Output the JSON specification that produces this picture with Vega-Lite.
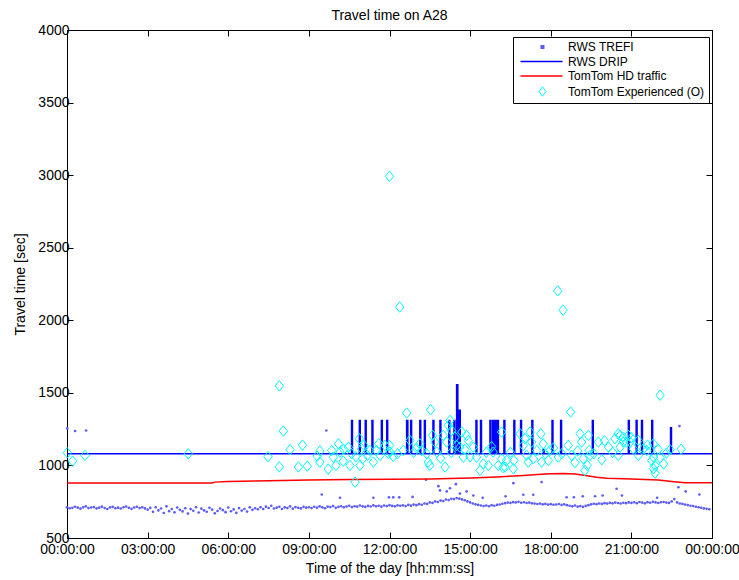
{
  "$schema": "https://vega.github.io/schema/vega-lite/v6.json",
  "autosize": "none",
  "width": 645,
  "height": 508,
  "padding": {"left": 67, "top": 30, "right": 27, "bottom": 42},
  "background": "white",
  "title": {"text": "Travel time on A28", "font": "Liberation Sans", "fontSize": 14, "fontWeight": "normal", "color": "black", "offset": 0},
  "config": {
    "view": {"stroke": "black", "strokeWidth": 1},
    "axis": {"grid": false, "domainColor": "black", "tickColor": "black", "labelColor": "black", "titleColor": "black", "labelFont": "Liberation Sans", "titleFont": "Liberation Sans", "labelFontSize": 14, "titleFontSize": 14, "titleFontWeight": "normal", "tickSize": -6, "labelFlush": false, "labelOverlap": false}
  },
  "datasets": {
    "trefi": [
      {"h":0.0,"v":712},{"h":0.1,"v":705},{"h":0.2,"v":708},{"h":0.3,"v":715},{"h":0.4,"v":709},{"h":0.5,"v":702},{"h":0.6,"v":711},{"h":0.7,"v":718},{"h":0.8,"v":706},{"h":0.9,"v":710},
      {"h":1.0,"v":713},{"h":1.1,"v":704},{"h":1.2,"v":709},{"h":1.3,"v":716},{"h":1.4,"v":707},{"h":1.5,"v":700},{"h":1.6,"v":711},{"h":1.7,"v":714},{"h":1.8,"v":705},{"h":1.9,"v":709},
      {"h":2.0,"v":703},{"h":2.1,"v":712},{"h":2.2,"v":717},{"h":2.3,"v":708},{"h":2.4,"v":701},{"h":2.5,"v":710},{"h":2.6,"v":715},{"h":2.7,"v":706},{"h":2.8,"v":712},{"h":2.9,"v":704},
      {"h":3.0,"v":695},{"h":3.1,"v":708},{"h":3.2,"v":680},{"h":3.3,"v":712},{"h":3.4,"v":690},{"h":3.5,"v":703},{"h":3.6,"v":672},{"h":3.7,"v":718},{"h":3.8,"v":685},{"h":3.9,"v":700},
      {"h":4.0,"v":677},{"h":4.1,"v":710},{"h":4.2,"v":694},{"h":4.3,"v":683},{"h":4.4,"v":705},{"h":4.5,"v":668},{"h":4.6,"v":699},{"h":4.7,"v":688},{"h":4.8,"v":712},{"h":4.9,"v":676},
      {"h":5.0,"v":702},{"h":5.1,"v":690},{"h":5.2,"v":681},{"h":5.3,"v":708},{"h":5.4,"v":695},{"h":5.5,"v":670},{"h":5.6,"v":686},{"h":5.7,"v":703},{"h":5.8,"v":692},{"h":5.9,"v":678},
      {"h":6.0,"v":710},{"h":6.1,"v":684},{"h":6.2,"v":697},{"h":6.3,"v":673},{"h":6.4,"v":706},{"h":6.5,"v":689},{"h":6.6,"v":700},{"h":6.7,"v":682},{"h":6.8,"v":711},{"h":6.9,"v":694},
      {"h":7.0,"v":705},{"h":7.1,"v":698},{"h":7.2,"v":712},{"h":7.3,"v":700},{"h":7.4,"v":716},{"h":7.5,"v":707},{"h":7.6,"v":722},{"h":7.7,"v":703},{"h":7.8,"v":709},{"h":7.9,"v":715},
      {"h":8.0,"v":700},{"h":8.1,"v":711},{"h":8.2,"v":706},{"h":8.3,"v":718},{"h":8.4,"v":702},{"h":8.5,"v":713},{"h":8.6,"v":708},{"h":8.7,"v":704},{"h":8.8,"v":714},{"h":8.9,"v":709},
      {"h":9.0,"v":712},{"h":9.1,"v":706},{"h":9.2,"v":715},{"h":9.3,"v":709},{"h":9.4,"v":718},{"h":9.5,"v":711},{"h":9.6,"v":705},{"h":9.7,"v":716},{"h":9.8,"v":713},{"h":9.9,"v":720},
      {"h":10.0,"v":708},{"h":10.1,"v":714},{"h":10.2,"v":719},{"h":10.3,"v":711},{"h":10.4,"v":717},{"h":10.5,"v":722},{"h":10.6,"v":713},{"h":10.7,"v":719},{"h":10.8,"v":716},{"h":10.9,"v":724},
      {"h":11.0,"v":718},{"h":11.1,"v":714},{"h":11.2,"v":721},{"h":11.3,"v":717},{"h":11.4,"v":725},{"h":11.5,"v":719},{"h":11.6,"v":722},{"h":11.7,"v":716},{"h":11.8,"v":724},{"h":11.9,"v":720},
      {"h":12.0,"v":726},{"h":12.1,"v":721},{"h":12.2,"v":718},{"h":12.3,"v":725},{"h":12.4,"v":722},{"h":12.5,"v":725},{"h":12.6,"v":720},{"h":12.7,"v":728},{"h":12.8,"v":723},{"h":12.9,"v":730},
      {"h":13.0,"v":726},{"h":13.1,"v":733},{"h":13.2,"v":729},{"h":13.3,"v":738},{"h":13.4,"v":735},{"h":13.5,"v":745},{"h":13.6,"v":742},{"h":13.7,"v":752},{"h":13.8,"v":748},{"h":13.9,"v":758},
      {"h":14.0,"v":755},{"h":14.1,"v":765},{"h":14.2,"v":761},{"h":14.3,"v":770},{"h":14.4,"v":768},{"h":14.5,"v":775},{"h":14.6,"v":771},{"h":14.7,"v":766},{"h":14.8,"v":760},{"h":14.9,"v":752},
      {"h":15.0,"v":745},{"h":15.1,"v":738},{"h":15.2,"v":732},{"h":15.3,"v":728},{"h":15.4,"v":724},{"h":15.5,"v":720},{"h":15.6,"v":724},{"h":15.7,"v":719},{"h":15.8,"v":726},{"h":15.9,"v":722},
      {"h":16.0,"v":728},{"h":16.1,"v":731},{"h":16.2,"v":736},{"h":16.3,"v":740},{"h":16.4,"v":744},{"h":16.5,"v":742},{"h":16.6,"v":747},{"h":16.7,"v":745},{"h":16.8,"v":749},{"h":16.9,"v":743},
      {"h":17.0,"v":746},{"h":17.1,"v":741},{"h":17.2,"v":744},{"h":17.3,"v":739},{"h":17.4,"v":737},{"h":17.5,"v":734},{"h":17.6,"v":737},{"h":17.7,"v":732},{"h":17.8,"v":735},{"h":17.9,"v":730},
      {"h":18.0,"v":733},{"h":18.1,"v":729},{"h":18.2,"v":731},{"h":18.3,"v":734},{"h":18.4,"v":728},{"h":18.5,"v":732},{"h":18.6,"v":726},{"h":18.7,"v":722},{"h":18.8,"v":718},{"h":18.9,"v":724},
      {"h":19.0,"v":716},{"h":19.1,"v":720},{"h":19.2,"v":714},{"h":19.3,"v":721},{"h":19.4,"v":726},{"h":19.5,"v":732},{"h":19.6,"v":736},{"h":19.7,"v":733},{"h":19.8,"v":738},{"h":19.9,"v":735},
      {"h":20.0,"v":740},{"h":20.1,"v":737},{"h":20.2,"v":742},{"h":20.3,"v":739},{"h":20.4,"v":744},{"h":20.5,"v":741},{"h":20.6,"v":738},{"h":20.7,"v":743},{"h":20.8,"v":740},{"h":20.9,"v":745},
      {"h":21.0,"v":742},{"h":21.1,"v":746},{"h":21.2,"v":740},{"h":21.3,"v":748},{"h":21.4,"v":744},{"h":21.5,"v":739},{"h":21.6,"v":747},{"h":21.7,"v":743},{"h":21.8,"v":749},{"h":21.9,"v":745},
      {"h":22.0,"v":741},{"h":22.1,"v":746},{"h":22.2,"v":748},{"h":22.3,"v":744},{"h":22.4,"v":742},{"h":22.5,"v":752},{"h":22.6,"v":768},{"h":22.7,"v":745},{"h":22.8,"v":738},{"h":22.9,"v":735},
      {"h":23.0,"v":730},{"h":23.1,"v":727},{"h":23.2,"v":722},{"h":23.3,"v":720},{"h":23.4,"v":715},{"h":23.5,"v":712},{"h":23.6,"v":708},{"h":23.7,"v":704},{"h":23.8,"v":701},{"h":23.9,"v":698},
      {"h":0.01,"v":1255},{"h":0.3,"v":1237},{"h":0.71,"v":1241},{"h":9.65,"v":1241},{"h":9.48,"v":800},{"h":10.16,"v":777},{"h":11.4,"v":777},{"h":11.98,"v":780},{"h":12.14,"v":780},{"h":12.36,"v":780},
      {"h":12.86,"v":783},{"h":13.36,"v":901},{"h":13.82,"v":857},{"h":13.88,"v":828},{"h":14.13,"v":821},{"h":14.25,"v":843},{"h":14.47,"v":871},{"h":14.62,"v":806},{"h":14.87,"v":821},{"h":15.12,"v":793},
      {"h":15.47,"v":777},{"h":16.32,"v":788},{"h":16.61,"v":878},{"h":16.98,"v":798},{"h":17.35,"v":798},{"h":17.66,"v":885},{"h":18.59,"v":781},{"h":18.86,"v":781},{"h":19.19,"v":788},{"h":19.65,"v":788},
      {"h":19.93,"v":793},{"h":20.45,"v":839},{"h":20.65,"v":793},{"h":21.96,"v":777},{"h":22.75,"v":850},{"h":22.79,"v":1271},{"h":23.02,"v":821},{"h":23.53,"v":800}
    ],
    "drip": [
      {"h":0,"v":1080},
      {"h":10.59,"v":1310},{"h":10.62,"v":1080},{"h":10.88,"v":1310},{"h":10.91,"v":1080},{"h":11.10,"v":1310},{"h":11.13,"v":1080},{"h":11.35,"v":1310},{"h":11.38,"v":1080},
      {"h":11.70,"v":1310},{"h":11.73,"v":1080},{"h":11.90,"v":1310},{"h":11.93,"v":1080},{"h":12.64,"v":1310},{"h":12.68,"v":1080},{"h":12.79,"v":1310},{"h":12.82,"v":1080},
      {"h":13.13,"v":1310},{"h":13.16,"v":1080},{"h":13.30,"v":1310},{"h":13.33,"v":1080},{"h":13.62,"v":1310},{"h":13.65,"v":1080},{"h":13.88,"v":1310},{"h":13.91,"v":1080},
      {"h":14.21,"v":1310},{"h":14.24,"v":1080},{"h":14.40,"v":1310},{"h":14.43,"v":1080},{"h":14.50,"v":1555},{"h":14.54,"v":1080},{"h":14.60,"v":1380},{"h":14.63,"v":1080},
      {"h":15.22,"v":1310},{"h":15.25,"v":1080},{"h":15.39,"v":1310},{"h":15.42,"v":1080},{"h":15.74,"v":1310},{"h":15.77,"v":1080},{"h":15.84,"v":1310},{"h":15.87,"v":1080},
      {"h":15.93,"v":1310},{"h":15.96,"v":1080},{"h":16.02,"v":1310},{"h":16.05,"v":1080},{"h":16.26,"v":1310},{"h":16.29,"v":1080},{"h":16.63,"v":1310},{"h":16.66,"v":1080},
      {"h":16.88,"v":1310},{"h":16.91,"v":1080},{"h":17.30,"v":1310},{"h":17.33,"v":1080},{"h":17.72,"v":1110},{"h":17.75,"v":1080},{"h":18.05,"v":1310},{"h":18.08,"v":1080},
      {"h":18.37,"v":1310},{"h":18.40,"v":1080},{"h":19.55,"v":1310},{"h":19.58,"v":1080},{"h":20.89,"v":1310},{"h":20.92,"v":1080},{"h":21.18,"v":1310},{"h":21.21,"v":1080},
      {"h":21.38,"v":1310},{"h":21.41,"v":1080},{"h":21.76,"v":1310},{"h":21.79,"v":1080},{"h":22.46,"v":1260},{"h":22.49,"v":1080},
      {"h":24,"v":1080}
    ],
    "tomtom": [
      {"h":0,"v":879},{"h":5.4,"v":879},{"h":5.5,"v":885},{"h":6.0,"v":889},{"h":7.0,"v":892},{"h":8.0,"v":896},{"h":9.0,"v":899},{"h":10.5,"v":903},{"h":12.0,"v":905},{"h":13.5,"v":907},
      {"h":15.0,"v":913},{"h":16.0,"v":921},{"h":17.0,"v":931},{"h":17.5,"v":937},{"h":18.0,"v":943},{"h":18.5,"v":945},{"h":18.9,"v":941},{"h":19.3,"v":930},{"h":19.7,"v":918},{"h":20.1,"v":911},
      {"h":21.0,"v":906},{"h":22.0,"v":899},{"h":22.5,"v":890},{"h":23.0,"v":881},{"h":24.0,"v":880}
    ],
    "exp": [
      {"h":12.0,"v":2992},{"h":12.38,"v":2091},{"h":18.26,"v":2203},{"h":18.46,"v":2070},{"h":7.9,"v":1548},{"h":22.07,"v":1484},{"h":12.64,"v":1361},{"h":13.53,"v":1384},{"h":18.74,"v":1368},{"h":8.05,"v":1237},
      {"h":0.01,"v":1087},{"h":0.21,"v":1030},{"h":0.67,"v":1069},{"h":4.51,"v":1080},{"h":7.48,"v":1060},{"h":7.9,"v":990},
      {"h":8.3,"v":1108},{"h":8.76,"v":1140},{"h":8.61,"v":989},{"h":8.94,"v":995},{"h":9.41,"v":1099},{"h":9.31,"v":1064},{"h":9.41,"v":1023},{"h":9.72,"v":975},{"h":9.85,"v":1103},{"h":9.91,"v":1057},
      {"h":10.1,"v":1149},{"h":10.16,"v":1092},{"h":10.01,"v":1000},{"h":10.28,"v":1030},{"h":10.47,"v":1126},{"h":10.53,"v":1000},{"h":10.59,"v":1081},{"h":10.72,"v":885},{"h":10.88,"v":1184},{"h":10.96,"v":1115},
      {"h":11.05,"v":1138},{"h":10.9,"v":1000},{"h":11.18,"v":1069},{"h":11.4,"v":1023},{"h":11.27,"v":1103},{"h":11.52,"v":1103},{"h":11.65,"v":1069},{"h":11.83,"v":1138},{"h":11.96,"v":1081},
      {"h":12.0,"v":1138},{"h":12.14,"v":1062},{"h":12.02,"v":1092},{"h":12.51,"v":1103},{"h":12.76,"v":1172},{"h":13.13,"v":1149},{"h":13.2,"v":1103},{"h":13.38,"v":1081},{"h":13.44,"v":1023},{"h":13.5,"v":1000},
      {"h":13.6,"v":1207},{"h":13.69,"v":1161},{"h":13.76,"v":1092},{"h":14.07,"v":989},{"h":14.0,"v":1207},{"h":14.13,"v":1161},{"h":14.25,"v":1310},{"h":14.19,"v":1276},{"h":14.31,"v":1241},{"h":14.44,"v":1195},
      {"h":14.5,"v":1138},{"h":14.69,"v":1230},{"h":14.62,"v":1126},{"h":14.87,"v":1207},{"h":14.93,"v":1172},{"h":14.75,"v":1057},{"h":15.12,"v":1126},{"h":15.24,"v":1057},{"h":15.37,"v":966},{"h":15.49,"v":1011},
      {"h":15.68,"v":1000},{"h":15.86,"v":1092},{"h":16.05,"v":1000},{"h":16.17,"v":1046},{"h":16.3,"v":989},{"h":15.8,"v":1130},
      {"h":16.17,"v":1230},{"h":16.36,"v":1034},{"h":16.22,"v":985},{"h":16.63,"v":1034},{"h":16.61,"v":977},{"h":16.86,"v":1218},{"h":17.04,"v":1184},{"h":16.98,"v":1138},{"h":17.23,"v":1230},{"h":17.29,"v":1161},
      {"h":17.16,"v":1023},{"h":17.35,"v":1046},{"h":17.48,"v":1103},{"h":17.63,"v":1218},{"h":17.66,"v":1023},{"h":17.72,"v":1149},{"h":17.91,"v":1034},{"h":17.97,"v":1103},{"h":18.28,"v":1057},{"h":18.41,"v":1081},
      {"h":18.65,"v":1138},{"h":18.78,"v":1069},{"h":19.09,"v":1218},{"h":19.15,"v":1161},{"h":19.21,"v":1046},{"h":19.27,"v":966},{"h":19.36,"v":1000},{"h":19.4,"v":1207},{"h":19.46,"v":1069},{"h":19.43,"v":1103},
      {"h":19.77,"v":1161},{"h":20.15,"v":1126},{"h":20.39,"v":1184},{"h":20.51,"v":1218},{"h":20.58,"v":1126},{"h":20.51,"v":1069},{"h":20.7,"v":1195},{"h":20.82,"v":1161},
      {"h":20.58,"v":1207},{"h":20.7,"v":1161},{"h":20.89,"v":1207},{"h":20.95,"v":1161},{"h":21.07,"v":1115},{"h":21.26,"v":1069},{"h":21.26,"v":1172},{"h":21.45,"v":1115},{"h":21.57,"v":1103},{"h":21.82,"v":1149},
      {"h":21.82,"v":1057},{"h":21.76,"v":1034},{"h":21.88,"v":1000},{"h":21.82,"v":977},{"h":21.88,"v":947},{"h":22.07,"v":1053},{"h":22.31,"v":1085},{"h":22.44,"v":1108},{"h":22.85,"v":1112},
      {"h":10.3,"v":1110},{"h":10.75,"v":1060},{"h":11.0,"v":1045},{"h":11.6,"v":1150},{"h":12.3,"v":1080},{"h":12.9,"v":1090},{"h":13.0,"v":1120},{"h":13.9,"v":1050},{"h":14.3,"v":1090},{"h":14.8,"v":1110},
      {"h":15.0,"v":1060},{"h":15.6,"v":1090},{"h":16.5,"v":1090},{"h":17.1,"v":1070},{"h":17.8,"v":1080},{"h":18.1,"v":1120},{"h":18.9,"v":1020},{"h":19.0,"v":1100},{"h":19.6,"v":1080},{"h":19.9,"v":1040},
      {"h":20.3,"v":1090},{"h":20.0,"v":1170},{"h":21.0,"v":1190},{"h":21.6,"v":1140},{"h":22.2,"v":1010},{"h":22.0,"v":1110}
    ]
  },
  "layer": [
    {
      "data": {"name": "trefi"},
      "mark": {"type": "point", "shape": "circle", "filled": true, "size": 7, "opacity": 1},
      "encoding": {
        "x": {"field": "h", "type": "quantitative", "scale": {"domain": [0, 24], "nice": false, "zero": false},
          "axis": {"orient": "bottom", "values": [0,3,6,9,12,15,18,21,24], "labelExpr": "(datum.value % 24 < 10 ? '0' : '') + (datum.value % 24) + ':00:00'", "title": "Time of the day [hh:mm:ss]", "labelPadding": 10, "titlePadding": 5}},
        "y": {"field": "v", "type": "quantitative", "scale": {"domain": [500, 4000], "nice": false, "zero": false},
          "axis": {"orient": "left", "values": [500,1000,1500,2000,2500,3000,3500,4000], "format": "d", "title": "Travel time [sec]", "labelPadding": 4, "titlePadding": 10}},
        "color": {"datum": "RWS TREFI", "type": "nominal",
          "scale": {"domain": ["RWS TREFI", "RWS DRIP", "TomTom HD traffic", "TomTom Experienced (O)"], "range": ["#5b5bf5", "#0000ff", "#ff0000", "#00ffff"]},
          "legend": {
            "orient": "none", "legendX": 446, "legendY": 7, "title": null,
            "symbolSize": 100, "labelOffset": 39, "padding": 4, "rowPadding": 2.5,
            "strokeColor": "black", "fillColor": "white",
            "labelFont": "Liberation Sans", "labelFontSize": 12, "labelColor": "black",
            "encoding": {
              "symbols": {
                "shape": {"value": {"expr": "datum.value === 'RWS TREFI' ? 'M3.65,-0.25L4.15,-0.25L4.15,0.25L3.65,0.25Z' : datum.value === 'TomTom Experienced (O)' ? 'M3.9,-0.95L4.6,0L3.9,0.95L3.2,0Z' : 'M-0.5,0L7.9,0'"}},
                "fill": {"value": {"expr": "datum.value === 'RWS TREFI' ? '#5b5bf5' : 'transparent'"}},
                "fillOpacity": {"value": {"expr": "datum.value === 'RWS TREFI' ? 1 : 0"}},
                "stroke": {"value": {"expr": "datum.value === 'RWS TREFI' ? 'transparent' : datum.value === 'RWS DRIP' ? '#0000ff' : datum.value === 'TomTom HD traffic' ? '#ff0000' : '#00ffff'"}},
                "strokeWidth": {"value": {"expr": "datum.value === 'TomTom Experienced (O)' ? 1 : 1.5"}},
                "opacity": {"value": 1}
              }
            }
          }
        }
      }
    },
    {
      "data": {"name": "drip"},
      "mark": {"type": "line", "interpolate": "step-after", "strokeWidth": 1.6},
      "encoding": {
        "x": {"field": "h", "type": "quantitative", "axis": null},
        "y": {"field": "v", "type": "quantitative", "axis": null},
        "color": {"datum": "RWS DRIP", "type": "nominal"}
      }
    },
    {
      "data": {"name": "tomtom"},
      "mark": {"type": "line", "strokeWidth": 1.5},
      "encoding": {
        "x": {"field": "h", "type": "quantitative",
          "axis": {"orient": "top", "values": [0,3,6,9,12,15,18,21,24], "labels": false, "title": null}},
        "y": {"field": "v", "type": "quantitative",
          "axis": {"orient": "right", "values": [500,1000,1500,2000,2500,3000,3500,4000], "labels": false, "title": null}},
        "color": {"datum": "TomTom HD traffic", "type": "nominal"}
      }
    },
    {
      "data": {"name": "exp"},
      "mark": {"type": "point", "shape": "M0,-1L0.8,0L0,1L-0.8,0Z", "filled": false, "size": 110, "strokeWidth": 1, "opacity": 1},
      "encoding": {
        "x": {"field": "h", "type": "quantitative", "axis": null},
        "y": {"field": "v", "type": "quantitative", "axis": null},
        "color": {"datum": "TomTom Experienced (O)", "type": "nominal"}
      }
    }
  ],
  "resolve": {"axis": {"x": "independent", "y": "independent"}}
}
